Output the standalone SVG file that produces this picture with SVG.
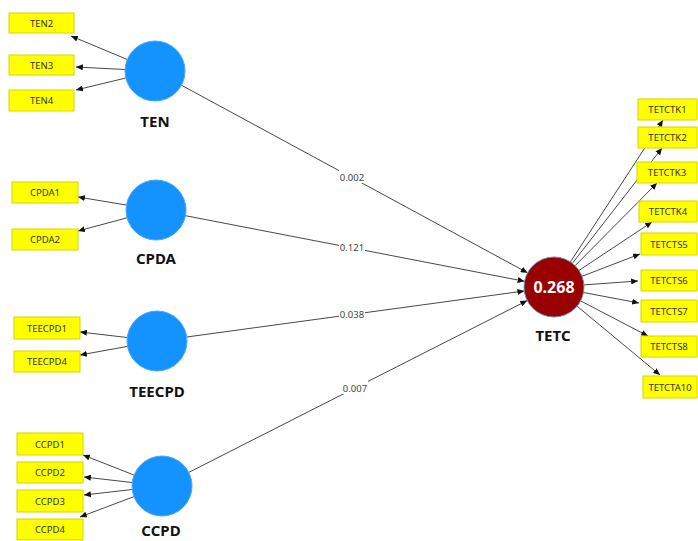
<svg xmlns="http://www.w3.org/2000/svg" width="698" height="541" viewBox="0 0 698 541">
  <defs>
    <marker id="arrow" viewBox="0 0 8 7" refX="8" refY="3.5" markerWidth="7" markerHeight="6" markerUnits="userSpaceOnUse" orient="auto">
      <path d="M0,0 L8,3.5 L0,7 z" fill="#111"/>
    </marker>
    <style>
      .ind rect { fill: #ffff00; stroke: #d6d600; stroke-width: 1; }
      .ind text { font-family: "Noto Sans", "Open Sans", sans-serif; font-size: 9.5px; fill: #333; text-anchor: middle; }
      .lv circle { fill: #1493ff; stroke: #4aa8ff; stroke-width: 1; }
      .lv text { font-family: "Noto Sans", "Open Sans", sans-serif; font-size: 15px; font-weight: bold; fill: #111; text-anchor: middle; }
      .edge line { stroke: #333; stroke-width: 0.9; marker-end: url(#arrow); }
      .coef rect { fill: #fff; }
      .coef text { font-family: "Noto Sans", "Open Sans", sans-serif; font-size: 9.5px; fill: #444; text-anchor: middle; }
    </style>
  </defs>
  <rect width="698" height="541" fill="#fff"/>

  <!-- connectors -->
  <g id="connectors" class="edge">
    <!-- TEN loadings -->
    <line x1="127.3" y1="59.5" x2="71" y2="36"/>
    <line x1="125" y1="69.5" x2="76" y2="67"/>
    <line x1="125.8" y1="78" x2="76" y2="90"/>
    <!-- CPDA loadings -->
    <line x1="126.4" y1="205" x2="78" y2="197"/>
    <line x1="127" y1="217.8" x2="78" y2="231"/>
    <!-- TEECPD loadings -->
    <line x1="127.2" y1="337.5" x2="80" y2="332"/>
    <line x1="127.5" y1="346.4" x2="80" y2="355"/>
    <!-- CCPD loadings -->
    <line x1="134" y1="475" x2="83" y2="455"/>
    <line x1="132.2" y1="482.5" x2="84" y2="477"/>
    <line x1="132.2" y1="489.5" x2="84" y2="495"/>
    <line x1="134" y1="496.6" x2="80" y2="517"/>
    <!-- structural paths -->
    <line x1="181.4" y1="85.2" x2="527.6" y2="272.8"/>
    <line x1="185.5" y1="215.7" x2="524.5" y2="281.3"/>
    <line x1="186.7" y1="337" x2="524.3" y2="291"/>
    <line x1="188.8" y1="472.4" x2="527.2" y2="300.6"/>
    <!-- TETC loadings -->
    <line x1="570.4" y1="261.9" x2="663" y2="120"/>
    <line x1="572.4" y1="263.3" x2="662" y2="148"/>
    <line x1="575.1" y1="265.7" x2="657" y2="183"/>
    <line x1="579" y1="270.4" x2="652" y2="222"/>
    <line x1="582" y1="276.3" x2="640" y2="254"/>
    <line x1="583.9" y1="284.9" x2="638" y2="281"/>
    <line x1="583.5" y1="292.5" x2="639" y2="303"/>
    <line x1="580.6" y1="300.9" x2="648" y2="336"/>
    <line x1="577.1" y1="306.2" x2="660" y2="375"/>
  </g>

  <!-- path coefficients -->
  <g id="coefficients" class="coef">
    <rect x="339" y="170" width="26" height="13"/>
    <text x="352" y="180.5">0.002</text>
    <rect x="339" y="240" width="26" height="13"/>
    <text x="352" y="250.5">0.121</text>
    <rect x="339" y="307" width="26" height="13"/>
    <text x="352" y="317.5">0.038</text>
    <rect x="342" y="381" width="26" height="13"/>
    <text x="355" y="391.5">0.007</text>
  </g>

  <!-- latent variables -->
  <g id="TEN" class="lv">
    <circle cx="155" cy="71" r="30"/>
    <text x="155" y="127">TEN</text>
  </g>
  <g id="CPDA" class="lv">
    <circle cx="156" cy="210" r="30"/>
    <text x="156" y="264">CPDA</text>
  </g>
  <g id="TEECPD" class="lv">
    <circle cx="157" cy="341" r="30"/>
    <text x="157" y="397">TEECPD</text>
  </g>
  <g id="CCPD" class="lv">
    <circle cx="162" cy="486" r="30"/>
    <text x="161" y="536">CCPD</text>
  </g>
  <g id="TETC" class="lv">
    <circle cx="554" cy="287" r="30" style="fill:#990000;stroke:#6a8fc0"/>
    <text x="554" y="293" style="fill:#fff;font-size:16px">0.268</text>
    <text x="553" y="341">TETC</text>
  </g>

  <!-- indicators -->
  <g id="TEN2" class="ind"><rect x="9" y="13" width="65" height="20"/><text x="41.5" y="26.5">TEN2</text></g>
  <g id="TEN3" class="ind"><rect x="9" y="55" width="65" height="20"/><text x="41.5" y="68.5">TEN3</text></g>
  <g id="TEN4" class="ind"><rect x="9" y="90" width="65" height="21"/><text x="41.5" y="104">TEN4</text></g>

  <g id="CPDA1" class="ind"><rect x="12" y="182" width="66" height="21"/><text x="45" y="196">CPDA1</text></g>
  <g id="CPDA2" class="ind"><rect x="12" y="229" width="66" height="21"/><text x="45" y="243">CPDA2</text></g>

  <g id="TEECPD1" class="ind"><rect x="14" y="317" width="66" height="22"/><text x="47" y="331.5">TEECPD1</text></g>
  <g id="TEECPD4" class="ind"><rect x="14" y="351" width="66" height="21"/><text x="47" y="365">TEECPD4</text></g>

  <g id="CCPD1" class="ind"><rect x="17" y="433" width="66" height="22"/><text x="50" y="447.5">CCPD1</text></g>
  <g id="CCPD2" class="ind"><rect x="17" y="462" width="66" height="21"/><text x="50" y="476">CCPD2</text></g>
  <g id="CCPD3" class="ind"><rect x="17" y="490" width="66" height="22"/><text x="50" y="504.5">CCPD3</text></g>
  <g id="CCPD4" class="ind"><rect x="17" y="519" width="66" height="21"/><text x="50" y="533">CCPD4</text></g>

  <g id="TETCTK1" class="ind"><rect x="638" y="99" width="59" height="21"/><text x="667.5" y="113">TETCTK1</text></g>
  <g id="TETCTK2" class="ind"><rect x="638" y="127" width="59" height="21"/><text x="667.5" y="141">TETCTK2</text></g>
  <g id="TETCTK3" class="ind"><rect x="637" y="162" width="60" height="21"/><text x="667" y="176">TETCTK3</text></g>
  <g id="TETCTK4" class="ind"><rect x="639" y="201" width="58" height="21"/><text x="668" y="215">TETCTK4</text></g>
  <g id="TETCTS5" class="ind"><rect x="641" y="233" width="56" height="22"/><text x="669" y="247.5">TETCTS5</text></g>
  <g id="TETCTS6" class="ind"><rect x="641" y="270" width="56" height="21"/><text x="669" y="284">TETCTS6</text></g>
  <g id="TETCTS7" class="ind"><rect x="641" y="300" width="56" height="22"/><text x="669" y="314.5">TETCTS7</text></g>
  <g id="TETCTS8" class="ind"><rect x="641" y="336" width="56" height="21"/><text x="669" y="350">TETCTS8</text></g>
  <g id="TETCTA10" class="ind"><rect x="643" y="376" width="54" height="22"/><text x="670" y="390.5">TETCTA10</text></g>
</svg>
